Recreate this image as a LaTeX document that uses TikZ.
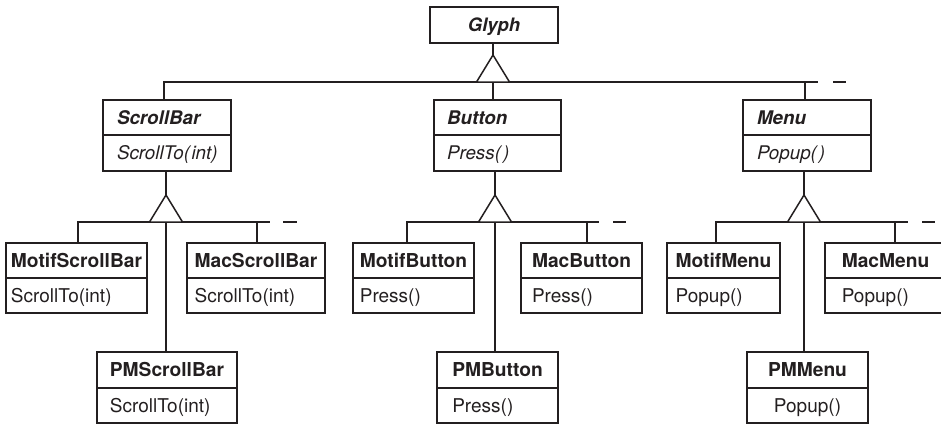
\documentclass[tikz,border=0pt]{standalone}
\usepackage{fontspec}
\setmainfont{TeX Gyre Heros}
\usetikzlibrary{fit}
\definecolor{ink}{HTML}{231F20}
\begin{document}
\begin{tikzpicture}[x=1pt,y=-1pt, color=ink,
  classbox/.style={draw=ink, line width=1.5pt, inner sep=0pt, outer sep=0pt},
  sepline/.style={draw=ink, line width=1.5pt},
  abssep/.style={draw=ink, line width=2.2pt},
  edge/.style={draw=ink, line width=1.5pt},
  txt/.style={inner sep=0pt, outer sep=0pt, text=ink},
  absname/.style={txt, font=\fontsize{18.8}{22}\selectfont\bfseries\itshape, anchor=base west},
  absop/.style={txt, font=\fontsize{18.8}{22}\selectfont\itshape, anchor=base west},
  cname/.style={txt, font=\fontsize{19.2}{22}\selectfont\bfseries, anchor=base},
  cop/.style={txt, font=\fontsize{19}{22}\selectfont, anchor=base west}
]
\useasboundingbox (0,0) rectangle (941,424);

% ---------- Glyph ----------
\node[classbox, fit={(430,7) (558,43)}] (glyph) {};
\node[cname, font=\fontsize{18.5}{22}\selectfont\bfseries\itshape] (glyph-n) at (glyph.center |- 0,31.8) {Glyph};

% ---------- abstract classes ----------
\node[classbox, fit={(103,100) (231,171)}] (sb) {};
\draw[abssep] (sb.west |- 0,135) -- (sb.east |- 0,135);
\node[absname] (sb-n) at (117,124.1) {ScrollBar};
\node[absop] (sb-o) at (sb-n.base west |- 0,159.5) {ScrollTo(\kern1.5pt int)};

\node[classbox, fit={(434,100) (561,171)}] (btn) {};
\draw[abssep] (btn.west |- 0,135) -- (btn.east |- 0,135);
\node[absname] (btn-n) at (447,124.1) {Button};
\node[absop] (btn-o) at (btn-n.base west |- 0,159.5) {Press(\kern2pt)};

\node[classbox, fit={(743,100) (871,171)}] (menu) {};
\draw[abssep] (menu.west |- 0,135) -- (menu.east |- 0,135);
\node[absname] (menu-n) at (757,124.1) {Menu};
\node[absop] (menu-o) at (menu-n.base west |- 0,159.5) {Popup(\kern2pt)};

% ---------- concrete classes, upper row ----------
\node[classbox, fit={(6,243) (147,313)}] (msb) {};
\draw[sepline] (msb.west |- 0,278) -- (msb.east |- 0,278);
\node[cname] (msb-n) at (msb.center |- 0,267) {MotifScrollBar};
\node[cop] (msb-o) at (msb-n.base west |- 0,302) {ScrollTo(int)};

\node[classbox, fit={(187,243) (325,313)}] (macsb) {};
\draw[sepline] (macsb.west |- 0,278) -- (macsb.east |- 0,278);
\node[cname] (macsb-n) at (macsb.center |- 0,267) {MacScrollBar};
\node[cop] (macsb-o) at (macsb-n.base west |- 0,302) {ScrollTo(int)};

\node[classbox, fit={(353,243) (474,313)}] (mbtn) {};
\draw[sepline] (mbtn.west |- 0,278) -- (mbtn.east |- 0,278);
\node[cname] (mbtn-n) at (mbtn.center |- 0,267) {MotifButton};
\node[cop] (mbtn-o) at (mbtn-n.base west |- 0,302) {Press()};

\node[classbox, fit={(521,243) (642,313)}] (macbtn) {};
\draw[sepline] (macbtn.west |- 0,278) -- (macbtn.east |- 0,278);
\node[cname] (macbtn-n) at (macbtn.center |- 0,267) {MacButton};
\node[cop] (macbtn-o) at (macbtn-n.base west |- 0,302) {Press()};

\node[classbox, fit={(667,243) (780,313)}] (mmenu) {};
\draw[sepline] (mmenu.west |- 0,278) -- (mmenu.east |- 0,278);
\node[cname] (mmenu-n) at (mmenu.center |- 0,267) {MotifMenu};
\node[cop] (mmenu-o) at (mmenu-n.base west |- 0,302) {Popup()};

\node[classbox, fit={(825,243) (946,313)}] (macmenu) {};
\draw[sepline] (macmenu.west |- 0,278) -- (macmenu.east |- 0,278);
\node[cname] (macmenu-n) at (macmenu.center |- 0,267) {MacMenu};
\node[cop] (macmenu-o) at (macmenu-n.base west |- 0,302) {Popup()};

% ---------- concrete classes, lower row ----------
\node[classbox, fit={(97,352) (237,423)}] (pmsb) {};
\draw[sepline] (pmsb.west |- 0,388) -- (pmsb.east |- 0,388);
\node[cname] (pmsb-n) at (pmsb.center |- 0,376.6) {PMScrollBar};
\node[cop] (pmsb-o) at (pmsb-n.base west |- 0,412) {ScrollTo(int)};

\node[classbox, fit={(437,352) (558,423)}] (pmbtn) {};
\draw[sepline] (pmbtn.west |- 0,388) -- (pmbtn.east |- 0,388);
\node[cname] (pmbtn-n) at (pmbtn.center |- 0,376.6) {PMButton};
\node[cop] (pmbtn-o) at (pmbtn-n.base west |- 0,412) {Press()};

\node[classbox, fit={(747,352) (868,423)}] (pmmenu) {};
\draw[sepline] (pmmenu.west |- 0,388) -- (pmmenu.east |- 0,388);
\node[cname] (pmmenu-n) at (pmmenu.center |- 0,376.6) {PMMenu};
\node[cname, font=\fontsize{19}{22}\selectfont] (pmmenu-o) at (pmmenu.center |- 0,412) {Popup()};

% ---------- Glyph hierarchy ----------
\coordinate (g-apex) at (493,55);
\coordinate (g-l) at (164,82);
\coordinate (g-m) at (493,82);
\coordinate (g-r) at (805,82);
\coordinate (g-e) at (818,82);
\coordinate (g-d1) at (833,82);
\coordinate (g-d2) at (846,82);
\draw[edge] (glyph.south -| g-apex) -- (g-apex);
\draw[edge] (g-l |- sb.north) -- (g-l) -- (g-e);
\draw[edge] (g-d1) -- (g-d2);
\draw[edge] (g-m) -- (g-m |- btn.north);
\draw[edge] (g-r) -- (g-r |- menu.north);
\draw[edge, fill=white] (g-apex) -- ++(-16.5,27) -- ++(33,0) -- cycle;

% ---------- ScrollBar hierarchy ----------
\coordinate (s-apex) at (166,195);
\coordinate (s-l) at (78,222);
\coordinate (s-m) at (166,222);
\coordinate (s-r) at (257,222);
\coordinate (s-e) at (270,222);
\coordinate (s-d1) at (283,222);
\coordinate (s-d2) at (297,222);
\draw[edge] (sb.south -| s-apex) -- (s-apex);
\draw[edge] (s-l |- msb.north) -- (s-l) -- (s-e);
\draw[edge] (s-d1) -- (s-d2);
\draw[edge] (s-r) -- (s-r |- macsb.north);
\draw[edge] (s-m) -- (s-m |- pmsb.north);
\draw[edge, fill=white] (s-apex) -- ++(-16.5,27) -- ++(33,0) -- cycle;

% ---------- Button hierarchy ----------
\coordinate (b-apex) at (495,195);
\coordinate (b-l) at (407,222);
\coordinate (b-m) at (495,222);
\coordinate (b-r) at (587,222);
\coordinate (b-e) at (599,222);
\coordinate (b-d1) at (613,222);
\coordinate (b-d2) at (626,222);
\draw[edge] (btn.south -| b-apex) -- (b-apex);
\draw[edge] (b-l |- mbtn.north) -- (b-l) -- (b-e);
\draw[edge] (b-d1) -- (b-d2);
\draw[edge] (b-r) -- (b-r |- macbtn.north);
\draw[edge] (b-m) -- (b-m |- pmbtn.north);
\draw[edge, fill=white] (b-apex) -- ++(-16.5,27) -- ++(33,0) -- cycle;

% ---------- Menu hierarchy ----------
\coordinate (m-apex) at (804,195);
\coordinate (m-l) at (716,222);
\coordinate (m-m) at (804,222);
\coordinate (m-r) at (895,222);
\coordinate (m-e) at (908,222);
\coordinate (m-d1) at (922,222);
\coordinate (m-d2) at (935,222);
\draw[edge] (menu.south -| m-apex) -- (m-apex);
\draw[edge] (m-l |- mmenu.north) -- (m-l) -- (m-e);
\draw[edge] (m-d1) -- (m-d2);
\draw[edge] (m-r) -- (m-r |- macmenu.north);
\draw[edge] (m-m) -- (m-m |- pmmenu.north);
\draw[edge, fill=white] (m-apex) -- ++(-16.5,27) -- ++(33,0) -- cycle;
\end{tikzpicture}
\end{document}
